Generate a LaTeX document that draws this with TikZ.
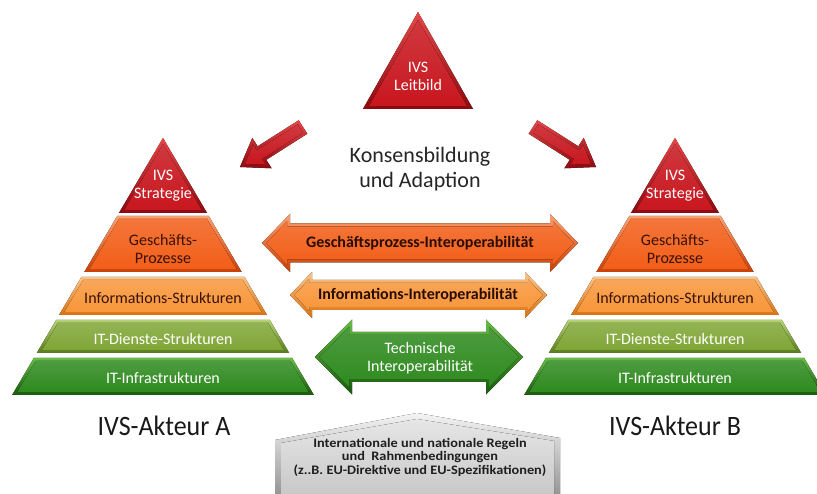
\documentclass[tikz,border=0pt]{standalone}
\usepackage{fontspec}
\setmainfont{Carlito}
\usetikzlibrary{calc}

% palette
\definecolor{redL}{HTML}{E84848}
\definecolor{redM}{HTML}{C8161E}
\definecolor{redD}{HTML}{8A0A10}
\definecolor{gpL}{HTML}{FCA070}
\definecolor{gpM}{HTML}{F25E18}
\definecolor{gpD}{HTML}{C84006}
\definecolor{inL}{HTML}{FCC488}
\definecolor{inM}{HTML}{F8963A}
\definecolor{inD}{HTML}{D87210}
\definecolor{dsL}{HTML}{B4D274}
\definecolor{dsM}{HTML}{80A636}
\definecolor{dsD}{HTML}{587C1C}
\definecolor{itL}{HTML}{68BC48}
\definecolor{itM}{HTML}{2E8A1E}
\definecolor{itD}{HTML}{175A0C}
\definecolor{grL}{HTML}{F4F4F4}
\definecolor{grM}{HTML}{C6C6C6}
\definecolor{grD}{HTML}{8E8E8E}
\definecolor{darktxt}{HTML}{3A1206}

% one beveled tier of a pyramid: cx, ytop, ybot, light, main, dark
\newcommand{\pyrtier}[6]{%
  \pgfmathsetmacro\ka{max(0,(#2-138)*0.587)}%
  \pgfmathsetmacro\kb{(#3-138)*0.587}%
  \pgfmathsetmacro\yi{max(#2+3,144)}%
  \pgfmathsetmacro\yj{#3-3}%
  \pgfmathsetmacro\ia{max(0,(\yi-138)*0.587-3.5)}%
  \pgfmathsetmacro\ib{(\yj-138)*0.587-3.5}%
  \fill[top color=#4,bottom color=#6] ({#1-\ka},#2) -- ({#1+\ka},#2) -- ({#1+\kb},#3) -- ({#1-\kb},#3) -- cycle;
  \fill[top color=#5!85!white,bottom color=#5] ({#1-\ia},\yi) -- ({#1+\ia},\yi) -- ({#1+\ib},\yj) -- ({#1-\ib},\yj) -- cycle;
}

% beveled double-headed arrow: xl, xr, yc, head half-height, shaft half-height, head length, light, main, dark
\newcommand{\dblarrow}[9]{%
  \pgfmathsetmacro\hi{#4*(#6-3)/#6-4.2}%
  \fill[top color=#7,bottom color=#9]
    (#1,#3) -- ({#1+#6},{#3-#4}) -- ({#1+#6},{#3-#5}) -- ({#2-#6},{#3-#5}) -- ({#2-#6},{#3-#4})
    -- (#2,#3) -- ({#2-#6},{#3+#4}) -- ({#2-#6},{#3+#5}) -- ({#1+#6},{#3+#5}) -- ({#1+#6},{#3+#4}) -- cycle;
  \fill[top color=#8!85!white,bottom color=#8]
    ({#1+4.5},#3) -- ({#1+#6-3},{#3-\hi}) -- ({#1+#6-3},{#3-#5+3}) -- ({#2-#6+3},{#3-#5+3}) -- ({#2-#6+3},{#3-\hi})
    -- ({#2-4.5},#3) -- ({#2-#6+3},{#3+\hi}) -- ({#2-#6+3},{#3+#5-3}) -- ({#1+#6-3},{#3+#5-3}) -- ({#1+#6-3},{#3+\hi}) -- cycle;
}

% beveled single arrow from tail coordinate #1 to tip coordinate #2
\newcommand{\redarrow}[2]{%
  \fill[top color=redL,bottom color=redD]
    ($(#1)!8pt!90:(#2)$) -- ($($(#2)!26pt!(#1)$)!8pt!90:(#2)$) -- ($($(#2)!26pt!(#1)$)!18pt!90:(#2)$)
    -- (#2) -- ($($(#2)!26pt!(#1)$)!18pt!-90:(#2)$) -- ($($(#2)!26pt!(#1)$)!8pt!-90:(#2)$)
    -- ($(#1)!8pt!-90:(#2)$) -- cycle;
  \fill[top color=redM!85!white,bottom color=redM]
    ($($(#1)!3pt!(#2)$)!5pt!90:(#2)$) -- ($($(#2)!23pt!(#1)$)!5pt!90:(#2)$) -- ($($(#2)!23pt!(#1)$)!12pt!90:(#2)$)
    -- ($(#2)!6pt!(#1)$) -- ($($(#2)!23pt!(#1)$)!12pt!-90:(#2)$) -- ($($(#2)!23pt!(#1)$)!5pt!-90:(#2)$)
    -- ($($(#1)!3pt!(#2)$)!5pt!-90:(#2)$) -- cycle;
}

\tikzset{
  tiertxt/.style={font=\fontsize{16}{18}\selectfont, align=center, inner sep=0pt},
  arrtxt/.style={font=\bfseries\fontsize{16}{18}\selectfont, text=darktxt!70!black, align=center, inner sep=0pt},
  actor/.style={font=\fontsize{26}{30}\selectfont, text=black!90, inner sep=0pt, yscale=1.08},
  consens/.style={font=\fontsize{22}{25}\selectfont, text=black!85, align=center, inner sep=0pt},
  basetxt/.style={font=\bfseries\fontsize{13}{13.5}\selectfont, text=black!88, align=center, inner sep=0pt, xscale=1.1}
}

\begin{document}
\begin{tikzpicture}[x=1pt,y=-1pt]
\useasboundingbox (0,0) rectangle (817,494);
\clip (0,0) rectangle (817,494);
\fill[white] (0,0) rectangle (817,494);

% mission statement on top
\fill[top color=redL,bottom color=redD] (418,12) -- (473,109) -- (363,109) -- cycle;
\fill[top color=redM!85!white,bottom color=redM] (418,20) -- (467,106) -- (369,106) -- cycle;
\node[tiertxt, text=white] (leit) at (418,76) {IVS\\Leitbild};

\node[consens] (kons) at (420,169) {Konsensbildung\\und Adaption};

% the two strategy arrows
\coordinate (lt) at (303,127);
\coordinate (lh) at (240,167);
\coordinate (rt) at (533,127);
\coordinate (rh) at (596,167);
\redarrow{lt}{lh}
\redarrow{rt}{rh}

% pyramid of actor A
\pyrtier{163}{138}{213}{redL}{redM}{redD}
\pyrtier{163}{216}{272}{gpL}{gpM}{gpD}
\pyrtier{163}{277}{315}{inL}{inM}{inD}
\pyrtier{163}{320}{353}{dsL}{dsM}{dsD}
\pyrtier{163}{358}{395}{itL}{itM}{itD}
\node[tiertxt, text=white] (aStr) at (163,186) {IVS\\Strategie};
\node[tiertxt, text=darktxt] (aGp) at (163,249) {Geschäfts-\\Prozesse};
\node[tiertxt, text=darktxt] (aIn) at (163,298) {Informations-Strukturen};
\node[tiertxt, text=white] (aDs) at (163,339) {IT-Dienste-Strukturen};
\node[tiertxt, text=white] (aIt) at (163,378) {IT-Infrastrukturen};

% pyramid of actor B
\pyrtier{675}{138}{213}{redL}{redM}{redD}
\pyrtier{675}{216}{272}{gpL}{gpM}{gpD}
\pyrtier{675}{277}{315}{inL}{inM}{inD}
\pyrtier{675}{320}{353}{dsL}{dsM}{dsD}
\pyrtier{675}{358}{395}{itL}{itM}{itD}
\node[tiertxt, text=white] (bStr) at (675,186) {IVS\\Strategie};
\node[tiertxt, text=darktxt] (bGp) at (675,249) {Geschäfts-\\Prozesse};
\node[tiertxt, text=darktxt] (bIn) at (675,298) {Informations-Strukturen};
\node[tiertxt, text=white] (bDs) at (675,339) {IT-Dienste-Strukturen};
\node[tiertxt, text=white] (bIt) at (675,378) {IT-Infrastrukturen};

% interoperability arrows
\dblarrow{262}{578}{243}{29}{19.5}{28}{gpL}{gpM}{gpD}
\dblarrow{290}{547}{295}{23}{15}{22}{inL}{inM}{inD}
\dblarrow{315}{523}{357}{37.5}{25}{37}{itL}{itM}{itD}
\node[arrtxt] (gpi) at (420,243) {Geschäftsprozess-Interoperabilität};
\node[arrtxt] (ini) at (418,295) {Informations-Interoperabilität};
\node[tiertxt, text=white] (tei) at (420,358) {Technische\\Interoperabilität};

% actor captions
\node[actor] (actA) at (164,426) {IVS-Akteur A};
\node[actor] (actB) at (675,426) {IVS-Akteur B};

% common framework at the bottom
\fill[top color=grL,bottom color=grD] (275,440) -- (417,413) -- (560,438) -- (560,500) -- (275,500) -- cycle;
\fill[top color=grL!70!grM,bottom color=grM] (281,443) -- (417,419) -- (554,441) -- (554,500) -- (281,500) -- cycle;
\node[basetxt] (rules) at (420,457) {Internationale und nationale Regeln\\und~ Rahmenbedingungen\\(z..B. EU-Direktive und EU-Spezifikationen)};
\end{tikzpicture}
\end{document}
